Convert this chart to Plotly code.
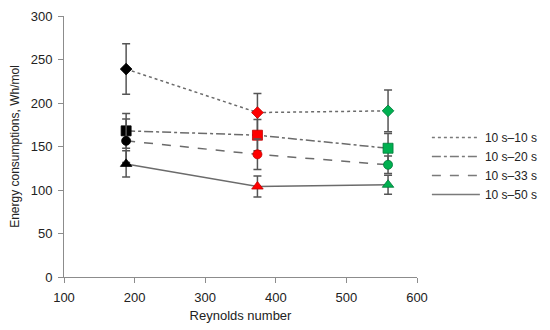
import plotly.graph_objects as go

reynolds = [188, 374, 559]
series_names = ["10 s\u201310 s", "10 s\u201320 s", "10 s\u201333 s", "10 s\u201350 s"]
e_10_10 = [239, 189, 191]
e_10_20 = [168, 163, 148]
e_10_33 = [156.5, 141, 129]
e_10_50 = [130, 104, 106]
err_10_10 = [29, 22, 24]
err_10_20 = [20, 18, 17]
err_10_33 = [25, 17.5, 10]
err_10_50 = [15, 12, 11]

point_colors = ["#000000", "#ff0000", "#00b050"]
edge_colors = ["#000000", "#c00000", "#007a3a"]
symbols = ["diamond", "square", "circle", "triangle-up"]
sizes = [9, 10, 9, 10]
dashes = ["dot", "dashdot", "dash", "solid"]
values = [e_10_10, e_10_20, e_10_33, e_10_50]
errors = [err_10_10, err_10_20, err_10_33, err_10_50]

line_col = "#6b6b6b"
fig = go.Figure()
for name, ys, errs, sym, sz, dash in zip(series_names, values, errors, symbols, sizes, dashes):
    fig.add_trace(go.Scatter(
        x=reynolds, y=ys, mode="lines+markers", showlegend=False,
        line=dict(color=line_col, width=1.5, dash=dash),
        marker=dict(symbol=sym, size=sz, color=point_colors,
                    line=dict(color=edge_colors, width=0.8)),
        error_y=dict(type="data", array=errs, visible=True,
                     color="#555555", thickness=1.5, width=4),
    ))
for name, dash in zip(series_names, dashes):
    fig.add_trace(go.Scatter(
        x=[None], y=[None], mode="lines", name=name,
        line=dict(color="#7a7a7a", width=1.5, dash=dash),
    ))

axis_common = dict(
    showgrid=False, zeroline=False, showline=True, linecolor="#8c8c8c",
    linewidth=1, ticks="outside", tickcolor="#8c8c8c", ticklen=5,
    ticklabelstandoff=3, ticklabeloverflow="allow",
    tickfont=dict(size=13, color="#222222"), mirror=False, automargin=False,
)
fig.update_layout(
    width=550, height=330,
    margin=dict(l=56, r=141, t=8, b=61),
    paper_bgcolor="white", plot_bgcolor="white",
    font=dict(family="Liberation Sans, Arial, sans-serif", size=12, color="#222222"),
    xaxis=dict(range=[100, 600], tickvals=[100, 200, 300, 400, 500, 600],
               title=dict(text="Reynolds number", standoff=7, font=dict(size=13)),
               **axis_common),
    yaxis=dict(range=[0, 300], tickvals=[0, 50, 100, 150, 200, 250, 300],
               title=dict(text="Energy consumptions, Wh/mol", standoff=8, font=dict(size=12)),
               **axis_common),
    legend=dict(x=1.028, y=0.59, xanchor="left", yanchor="top",
                bgcolor="rgba(0,0,0,0)", font=dict(size=12, color="#222222"),
                itemwidth=48, tracegroupgap=0),
)
fig.write_html("out.html")
